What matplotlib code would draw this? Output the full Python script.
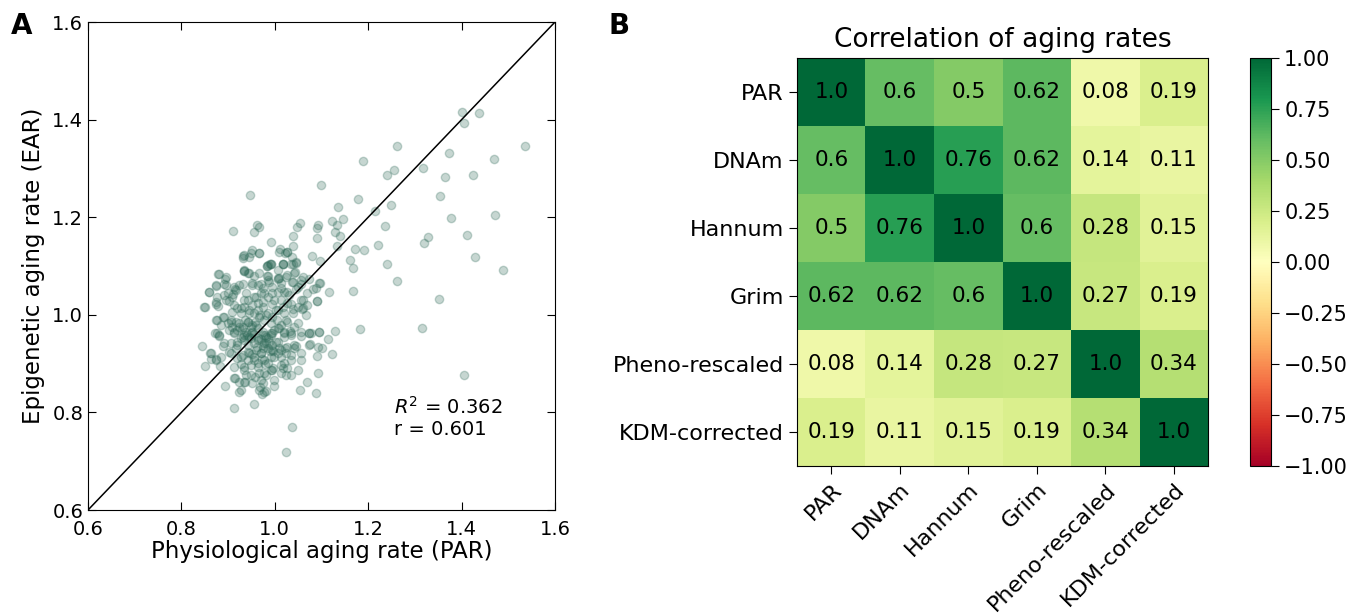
import numpy as np
import matplotlib.pyplot as plt

# panel A: physiological vs epigenetic aging rate
par_rate = [
    1.400, 1.438, 1.405, 1.261, 1.535, 1.188, 1.373, 1.470, 1.240, 1.256,
    1.317, 1.364, 1.425, 1.098, 0.946, 1.178, 1.354, 1.249, 1.135, 1.215,
    1.146, 1.122, 1.377, 1.472, 1.053, 0.962, 0.967, 0.911, 0.955, 1.048,
    1.093, 1.090, 1.133, 1.128, 1.140, 1.039, 1.235, 1.090, 1.327, 1.319,
    1.411, 0.992, 1.040, 1.134, 1.220, 1.172, 1.190, 0.952, 0.966, 1.012,
    1.021, 1.026, 0.933, 0.932, 0.944, 1.037, 1.080, 1.096, 1.161, 1.045,
    1.017, 0.991, 0.984, 1.241, 1.429, 1.488, 1.168, 0.933,
    1.262, 1.168, 1.352, 1.316, 1.183, 1.406, 1.037, 1.025, 0.912, 0.955,
    1.116, 1.128, 1.113, 1.123, 1.094, 1.073, 1.076, 1.100, 1.090, 1.093,
    1.088, 1.054, 1.068, 1.035, 1.056, 1.045, 1.049, 1.059, 1.090, 1.082,
    1.096, 1.073, 1.043, 1.040, 1.017, 0.990, 0.983, 1.009, 1.037, 0.983,
    0.956, 0.934, 0.942, 0.894, 0.879, 0.896, 0.874, 0.859, 0.914, 0.911,
    0.892, 0.901, 0.874, 0.879, 0.850, 0.877, 0.889, 0.873, 0.880, 0.845,
    0.861, 0.851, 0.864, 0.874, 0.883, 0.890, 0.902, 0.917, 0.893, 0.914,
    0.924, 0.937, 0.923, 0.968, 0.977, 0.973, 0.999, 0.957, 0.938, 0.967,
    0.992, 0.997, 1.017, 1.025, 1.020, 1.035, 1.025, 1.022, 1.042, 0.940,
    0.927, 0.919, 0.907, 0.943, 0.956, 0.970, 0.981, 0.992, 1.006, 1.013,
    1.024, 1.033, 1.020, 1.002, 0.985, 0.970, 0.956, 0.942, 0.927, 0.935,
    0.949, 0.963, 0.977, 0.992, 1.006, 1.010, 0.995, 0.981, 0.974, 0.960,
    0.945, 0.931, 0.920, 0.909, 0.917, 0.924, 0.931, 0.920, 0.913, 0.902,
    0.899, 0.906, 0.942, 0.952, 0.963, 0.974, 0.985, 0.995, 1.006, 1.017,
    1.027, 1.038, 1.049, 1.060, 0.999, 0.985, 0.970, 0.956, 0.942, 0.935,
    0.945, 0.956, 0.967, 0.974, 0.963, 1.006, 1.020, 1.031, 1.049, 1.056,
    0.963, 0.974, 0.952, 0.924, 0.909, 0.920, 0.927, 0.985, 1.006, 1.027,
    0.995, 1.013, 0.931, 0.949, 0.985, 0.995, 1.013, 1.035, 1.056, 1.049,
    1.013, 0.981, 0.970, 0.952, 0.999,
    0.955, 0.965, 0.975, 0.990, 0.948, 0.938, 0.958, 0.978, 0.998, 1.004,
    0.962, 0.972, 0.944, 0.930, 0.988, 0.968, 0.952, 0.980, 0.996, 0.936,
]
ear_rate = [
    1.416, 1.414, 1.394, 1.345, 1.345, 1.315, 1.331, 1.319, 1.286, 1.296,
    1.300, 1.282, 1.287, 1.266, 1.246, 1.237, 1.243, 1.226, 1.220, 1.213,
    1.197, 1.193, 1.198, 1.204, 1.188, 1.184, 1.179, 1.172, 1.170, 1.179,
    1.184, 1.177, 1.185, 1.170, 1.161, 1.162, 1.181, 1.157, 1.159, 1.147,
    1.164, 1.150, 1.140, 1.142, 1.144, 1.135, 1.133, 1.132, 1.127, 1.134,
    1.127, 1.129, 1.122, 1.116, 1.119, 1.118, 1.121, 1.111, 1.113, 1.107,
    1.104, 1.105, 1.101, 1.105, 1.118, 1.092, 1.095, 1.092,
    1.070, 1.049, 1.033, 0.972, 0.970, 0.876, 0.770, 0.718, 0.810, 0.817,
    1.046, 0.967, 0.951, 0.920, 0.964, 0.962, 0.940, 0.933, 0.915, 0.880,
    0.840, 0.846, 0.862, 0.877, 0.907, 0.936, 0.983, 1.011, 1.029, 1.052,
    1.066, 1.073, 1.087, 1.105, 1.104, 1.104, 1.100, 1.075, 1.067, 1.080,
    1.080, 1.090, 1.085, 1.073, 1.084, 1.061, 1.060, 1.047, 1.053, 1.042,
    1.041, 1.029, 1.027, 1.019, 1.016, 0.990, 0.996, 0.963, 0.957, 0.937,
    0.921, 0.895, 0.910, 0.910, 0.895, 0.937, 0.924, 0.931, 0.855, 0.870,
    0.862, 0.862, 0.842, 0.853, 0.841, 0.838, 0.854, 0.872, 0.877, 0.880,
    0.887, 0.890, 0.890, 0.877, 0.902, 0.907, 0.921, 0.933, 0.931, 0.959,
    0.952, 0.944, 0.942, 0.938, 0.943, 0.950, 0.955, 0.962, 0.972, 0.979,
    0.989, 0.967, 0.962, 0.945, 0.931, 0.921, 0.914, 0.907, 0.900, 0.894,
    0.897, 0.901, 0.907, 0.914, 0.921, 0.933, 0.938, 0.942, 0.931, 0.928,
    0.922, 0.918, 0.911, 0.976, 0.986, 0.983, 0.976, 0.969, 0.963, 0.969,
    0.983, 0.990, 0.986, 0.979, 0.972, 0.965, 1.003, 0.996, 1.010, 1.017,
    1.024, 1.003, 1.017, 1.030, 1.030, 1.037, 1.044, 1.037, 1.030, 1.017,
    1.010, 1.003, 0.996, 1.017, 1.024, 1.047, 1.047, 1.041, 1.058, 1.071,
    1.061, 1.054, 1.065, 1.061, 1.037, 1.013, 1.003, 1.071, 1.092, 1.082,
    1.058, 1.065, 0.955, 0.952, 0.952, 0.928, 0.914, 0.918, 0.921, 0.887,
    0.880, 0.877, 0.867, 0.860, 0.867,
    0.960, 0.948, 0.938, 0.925, 0.975, 0.965, 0.985, 0.958, 0.968, 0.990,
    0.935, 0.910, 0.955, 0.970, 0.945, 1.000, 0.920, 0.900, 0.925, 0.990,
]

# extra points of the dense core, read from close-ups
par_core = [
    0.931, 0.949, 0.967, 0.992, 0.985, 1.017, 1.035, 1.045, 1.042, 1.027,
    1.010, 0.881, 0.895, 0.934, 0.945, 0.967, 0.985, 1.006, 1.024, 1.060,
    0.874, 0.892, 0.913, 0.931, 0.952, 0.970, 0.988, 1.007, 1.038, 1.056,
    1.095, 0.859, 0.877, 0.899, 0.917, 0.938, 0.959, 0.977, 0.995, 1.013,
    1.027, 1.045, 1.070, 1.088, 0.849, 0.874, 0.895, 0.913, 0.934, 0.952,
    0.974, 0.995, 1.013, 1.035, 1.056, 1.070, 1.090, 0.874, 0.892, 0.909,
    0.927, 0.945, 0.963, 0.981, 1.002, 1.020, 1.038, 1.060, 1.067, 0.884,
    0.906, 0.924, 0.942, 0.959, 0.977, 0.992, 1.010, 1.027, 1.042, 0.877,
    0.913, 0.934, 0.952, 0.974, 0.995, 1.020, 1.035, 1.056, 1.078, 1.095,
    0.863, 0.874, 0.884, 0.881, 0.892, 0.906, 0.920, 0.934, 0.949, 0.963,
    0.977, 0.992, 1.006, 1.020, 1.035, 1.056, 1.074, 0.927, 0.942, 0.956,
    0.970, 0.985, 0.999, 1.013, 1.027, 1.042, 1.074, 1.092, 0.913, 0.934,
    0.949, 0.963, 0.977, 0.995, 1.013, 1.027, 0.913, 0.934, 0.974, 0.967,
    0.981, 0.927,
]
ear_core = [
    1.120, 1.127, 1.126, 1.105, 1.102, 1.105, 1.105, 1.109, 1.085, 1.129,
    1.129, 1.084, 1.078, 1.090, 1.085, 1.086, 1.080, 1.075, 1.078, 1.078,
    1.061, 1.064, 1.058, 1.064, 1.061, 1.064, 1.068, 1.073, 1.068, 1.064,
    1.066, 1.047, 1.037, 1.044, 1.051, 1.044, 1.037, 1.045, 1.044, 1.054,
    1.047, 1.052, 1.044, 1.054, 1.017, 1.023, 1.030, 1.020, 1.030, 1.020,
    1.027, 1.023, 1.030, 1.023, 1.030, 1.020, 1.029, 0.989, 0.996, 1.006,
    1.013, 1.003, 1.010, 0.999, 1.010, 1.003, 1.011, 1.013, 0.999, 0.979,
    0.986, 0.976, 0.986, 0.979, 0.989, 0.983, 0.972, 0.986, 0.976, 0.962,
    0.965, 0.959, 0.965, 0.959, 0.962, 0.965, 0.959, 0.965, 0.962, 0.965,
    0.921, 0.907, 0.914, 0.959, 0.942, 0.921, 0.938, 0.948, 0.962, 0.952,
    0.942, 0.959, 0.945, 0.955, 0.962, 0.957, 0.962, 0.914, 0.924, 0.907,
    0.921, 0.901, 0.914, 0.928, 0.935, 0.938, 0.938, 0.935, 0.894, 0.887,
    0.877, 0.894, 0.880, 0.887, 0.897, 0.890, 0.870, 0.863, 0.860, 0.846,
    0.843, 0.845,
]

r2_text = "$R^2$ = 0.362"
r_text = "r = 0.601"

# panel B: correlation matrix
labels = ["PAR", "DNAm", "Hannum", "Grim", "Pheno-rescaled", "KDM-corrected"]
corr = [
    [1.0, 0.6, 0.5, 0.62, 0.08, 0.19],
    [0.6, 1.0, 0.76, 0.62, 0.14, 0.11],
    [0.5, 0.76, 1.0, 0.6, 0.28, 0.15],
    [0.62, 0.62, 0.6, 1.0, 0.27, 0.19],
    [0.08, 0.14, 0.28, 0.27, 1.0, 0.34],
    [0.19, 0.11, 0.15, 0.19, 0.34, 1.0],
]
cbar_ticks = [-1.0, -0.75, -0.5, -0.25, 0.0, 0.25, 0.5, 0.75, 1.0]

plt.rcParams["font.family"] = "DejaVu Sans"

fig = plt.figure(figsize=(13.56, 6.15), dpi=100)

# --- A: scatter ---
axA = fig.add_axes([0.0649, 0.1707, 0.3444, 0.7935])
xs = par_rate + par_core
ys = ear_rate + ear_core
axA.scatter(xs, ys, s=36, color="#2e6a58", alpha=0.27,
            edgecolors="#2e6a58", linewidths=1.0)
axA.plot([0.6, 1.6], [0.6, 1.6], color="black", lw=1.1)
axA.set_xlim(0.6, 1.6)
axA.set_ylim(0.6, 1.6)
axA.set_xticks([0.6, 0.8, 1.0, 1.2, 1.4, 1.6])
axA.set_yticks([0.6, 0.8, 1.0, 1.2, 1.4, 1.6])
axA.tick_params(direction="in", top=True, right=True, length=6, labelsize=14)
axA.tick_params(axis="x", pad=7)
axA.set_xlabel("Physiological aging rate (PAR)", fontsize=16.5, labelpad=1)
axA.set_ylabel("Epigenetic aging rate (EAR)", fontsize=16.5, labelpad=5)
axA.text(1.255, 0.811, r2_text, fontsize=14, va="center")
axA.text(1.255, 0.765, r_text, fontsize=14, va="center")
fig.text(0.008, 0.958, "A", fontsize=20, fontweight="bold", va="center")

# --- B: heatmap ---
axB = fig.add_axes([0.5878, 0.2423, 0.3031, 0.6634])
mat = np.array(corr)
im = axB.imshow(mat, cmap="RdYlGn", vmin=-1, vmax=1, aspect="auto",
                interpolation="nearest")
for i in range(len(labels)):
    for j in range(len(labels)):
        axB.text(j, i, str(corr[i][j]), ha="center", va="center", fontsize=15.5)
axB.set_xticks(range(len(labels)))
axB.set_yticks(range(len(labels)))
axB.set_xticklabels(labels, rotation=45, ha="right", rotation_mode="anchor")
axB.set_yticklabels(labels)
axB.tick_params(length=6, labelsize=16)
axB.set_title("Correlation of aging rates", fontsize=19, pad=8)
fig.text(0.449, 0.958, "B", fontsize=20, fontweight="bold", va="center")

cax = fig.add_axes([0.9218, 0.2423, 0.0155, 0.6634])
cb = fig.colorbar(im, cax=cax, ticks=cbar_ticks)
cb.ax.set_yticklabels(["\u22121.00", "\u22120.75", "\u22120.50", "\u22120.25",
                       "0.00", "0.25", "0.50", "0.75", "1.00"])
cb.ax.tick_params(length=6, labelsize=15)

fig.savefig("out.png", dpi=100)
